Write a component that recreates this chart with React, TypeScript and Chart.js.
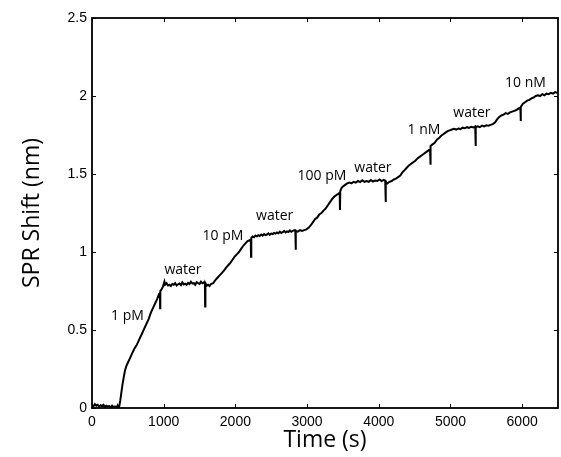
import React, { useEffect, useRef } from 'react';
import { Chart, registerables } from 'chart.js';

Chart.register(...registerables);

// Time (s)
const times = [
  0, 20, 40, 60, 80, 100, 120, 140, 160, 180, 200, 220, 240, 260, 280, 300, 320, 340, 355, 365,
  380, 395, 410, 425, 440, 460, 480, 500, 530, 560, 590, 620, 650, 680, 710, 730, 760, 790, 820, 850,
  880, 910, 935, 948, 950, 953, 970, 990, 1010, 1020, 1040, 1060, 1080, 1100, 1120, 1140, 1160, 1180, 1200, 1220,
  1240, 1260, 1280, 1300, 1320, 1340, 1360, 1380, 1400, 1420, 1440, 1460, 1480, 1500, 1520, 1540, 1560, 1575, 1578, 1582,
  1600, 1620, 1640, 1660, 1690, 1720, 1750, 1780, 1810, 1840, 1870, 1900, 1930, 1960, 1990, 2020, 2050, 2080, 2110, 2140,
  2170, 2200, 2215, 2218, 2222, 2240, 2260, 2280, 2300, 2320, 2340, 2360, 2380, 2400, 2420, 2440, 2460, 2480, 2500, 2520,
  2540, 2560, 2580, 2600, 2620, 2640, 2660, 2680, 2700, 2720, 2740, 2760, 2780, 2800, 2820, 2836, 2840, 2845, 2870, 2900,
  2930, 2960, 2990, 3020, 3050, 3080, 3110, 3140, 3170, 3200, 3230, 3260, 3290, 3320, 3350, 3380, 3410, 3440, 3455, 3459,
  3463, 3480, 3500, 3530, 3560, 3590, 3620, 3650, 3680, 3710, 3740, 3770, 3800, 3830, 3860, 3890, 3920, 3950, 3980, 4010,
  4040, 4070, 4090, 4095, 4100, 4120, 4150, 4180, 4210, 4240, 4270, 4300, 4330, 4360, 4390, 4420, 4450, 4480, 4510, 4540,
  4570, 4600, 4630, 4660, 4690, 4715, 4720, 4725, 4750, 4780, 4810, 4840, 4870, 4900, 4930, 4960, 4990, 5020, 5050, 5080,
  5110, 5140, 5170, 5200, 5230, 5260, 5290, 5320, 5345, 5350, 5355, 5380, 5410, 5440, 5470, 5500, 5530, 5560, 5590, 5620,
  5650, 5680, 5710, 5740, 5770, 5800, 5830, 5860, 5890, 5920, 5950, 5975, 5979, 5983, 6010, 6040, 6070, 6100, 6130, 6160,
  6190, 6220, 6250, 6280, 6310, 6340, 6370, 6400, 6430, 6460, 6490, 6500,
];

// SPR shift (nm)
const shifts = [
  0.02, 0.01, 0.025, 0.015, 0.02, 0.008, 0.018, 0.012, 0.02, 0.005, 0.015, 0.01, 0.012, 0.004, 0.015, 0.006, 0.01, 0.002, 0.015, 0.0,
  0.01, 0.05, 0.1, 0.15, 0.19, 0.24, 0.27, 0.29, 0.32, 0.35, 0.38, 0.4, 0.43, 0.46, 0.49, 0.51, 0.54, 0.57, 0.61, 0.64,
  0.67, 0.7, 0.73, 0.74, 0.64, 0.75, 0.76, 0.78, 0.81, 0.79, 0.8, 0.785, 0.79, 0.782, 0.795, 0.79, 0.8, 0.785, 0.793, 0.798,
  0.788, 0.805, 0.792, 0.797, 0.79, 0.802, 0.795, 0.81, 0.798, 0.8, 0.79, 0.806, 0.8, 0.795, 0.81, 0.8, 0.805, 0.8, 0.65, 0.8,
  0.785, 0.79, 0.782, 0.795, 0.8, 0.82, 0.835, 0.85, 0.865, 0.88, 0.9, 0.915, 0.93, 0.95, 0.97, 0.985, 1.0, 1.02, 1.04, 1.055,
  1.07, 1.075, 1.08, 0.97, 1.09, 1.1, 1.095, 1.105, 1.1, 1.108, 1.103, 1.112, 1.105, 1.115, 1.108, 1.112, 1.12, 1.11, 1.118, 1.115,
  1.122, 1.118, 1.125, 1.12, 1.13, 1.122, 1.127, 1.135, 1.125, 1.132, 1.128, 1.138, 1.13, 1.135, 1.14, 1.14, 1.015, 1.135, 1.13, 1.14,
  1.135, 1.14, 1.145, 1.155, 1.17, 1.19, 1.21, 1.22, 1.24, 1.25, 1.265, 1.28, 1.3, 1.32, 1.34, 1.355, 1.365, 1.375, 1.38, 1.27,
  1.39, 1.41, 1.42, 1.43, 1.44, 1.445, 1.44, 1.45, 1.445, 1.455, 1.448, 1.46, 1.45, 1.455, 1.45, 1.462, 1.452, 1.458, 1.455, 1.465,
  1.455, 1.462, 1.458, 1.32, 1.45, 1.44, 1.45, 1.455, 1.465, 1.47, 1.48, 1.49, 1.51, 1.525, 1.54, 1.555, 1.565, 1.575, 1.585, 1.6,
  1.61, 1.62, 1.63, 1.64, 1.65, 1.66, 1.56, 1.68, 1.69, 1.7, 1.72, 1.73, 1.745, 1.755, 1.765, 1.775, 1.78, 1.785, 1.79, 1.785,
  1.792, 1.788, 1.797, 1.793, 1.8, 1.795, 1.803, 1.798, 1.805, 1.68, 1.8, 1.806, 1.8, 1.81, 1.805, 1.812, 1.81, 1.815, 1.82, 1.83,
  1.85, 1.865, 1.875, 1.88, 1.89, 1.885, 1.895, 1.9, 1.905, 1.91, 1.92, 1.925, 1.84, 1.93, 1.95, 1.96, 1.97, 1.975, 1.985, 1.99,
  2.0, 2.005, 2.0, 2.012, 2.005, 2.015, 2.012, 2.02, 2.015, 2.025, 2.02, 2.025,
];

const xTickValues = [0, 1000, 2000, 3000, 4000, 5000, 6000];
const yTickValues = [0, 0.5, 1, 1.5, 2, 2.5];

// Injection annotations (text, anchor time, anchor shift)
const noteTexts = ['1 pM', 'water', '10 pM', 'water', '100 pM', 'water', '1 nM', 'water', '10 nM'];
const noteTimes = [494, 1269, 1827, 2548, 3208, 3919, 4630, 5300, 6046];
const noteShifts = [0.592, 0.886, 1.104, 1.228, 1.489, 1.54, 1.784, 1.892, 2.085];

const framePlugin = {
  id: 'frame',
  afterDraw(chart: any) {
    const { ctx, chartArea, scales } = chart;
    const { left, right, top, bottom } = chartArea;
    const x = scales.x;
    const y = scales.y;
    ctx.save();
    ctx.strokeStyle = '#000';
    ctx.lineWidth = 1.8;
    ctx.strokeRect(left, top, right - left, bottom - top);
    ctx.lineWidth = 1;
    ctx.beginPath();
    const tl = 4;
    x.ticks.forEach((t: any) => {
      const px = Math.round(x.getPixelForValue(t.value)) + 0.5;
      ctx.moveTo(px, bottom);
      ctx.lineTo(px, bottom - tl);
      ctx.moveTo(px, top);
      ctx.lineTo(px, top + tl);
    });
    y.ticks.forEach((t: any) => {
      const py = Math.round(y.getPixelForValue(t.value)) + 0.5;
      ctx.moveTo(left, py);
      ctx.lineTo(left + tl, py);
      ctx.moveTo(right, py);
      ctx.lineTo(right - tl, py);
    });
    ctx.stroke();

    ctx.fillStyle = '#000';
    ctx.font = '14px "Open Sans"';
    ctx.textAlign = 'center';
    ctx.textBaseline = 'middle';
    noteTexts.forEach((txt, i) => {
      ctx.fillText(txt, x.getPixelForValue(noteTimes[i]), y.getPixelForValue(noteShifts[i]));
    });
    ctx.restore();
  },
};

export default function App() {
  const ref = useRef<HTMLCanvasElement>(null);
  useEffect(() => {
    if (!ref.current) return;
    const data = times.map((t, i) => ({ x: t, y: shifts[i] }));
    const chart = new Chart(ref.current, {
      type: 'line',
      data: {
        datasets: [
          {
            data,
            borderColor: '#000',
            borderWidth: 2,
            pointRadius: 0,
            tension: 0,
            fill: false,
          },
        ],
      },
      options: {
        responsive: false,
        animation: false,
        layout: { padding: { top: 18, right: 3, left: 0, bottom: 0 } },
        plugins: { legend: { display: false }, tooltip: { enabled: false } },
        scales: {
          x: {
            type: 'linear',
            min: 0,
            max: 6500,
            afterFit: (s: any) => {
              s.height = 49;
            },
            afterBuildTicks: (s: any) => {
              s.ticks = xTickValues.map((v) => ({ value: v }));
            },
            grid: { display: false, drawTicks: false },
            border: { display: false },
            ticks: {
              padding: 6,
              color: '#000',
              font: { family: '"Liberation Sans", Arial, sans-serif', size: 14 },
              maxRotation: 0,
              autoSkip: false,
              callback: (v: any) => String(v),
            },
            title: {
              display: true,
              text: 'Time (s)',
              color: '#000',
              font: { family: '"Open Sans"', size: 23 },
              padding: { top: 0, bottom: 3 },
            },
          },
          y: {
            type: 'linear',
            min: 0,
            max: 2.5,
            afterFit: (s: any) => {
              s.width = 92;
            },
            afterBuildTicks: (s: any) => {
              s.ticks = yTickValues.map((v) => ({ value: v }));
            },
            grid: { display: false, drawTicks: false },
            border: { display: false },
            ticks: {
              padding: 5,
              color: '#000',
              font: { family: '"Liberation Sans", Arial, sans-serif', size: 14 },
              autoSkip: false,
              callback: (v: any) => String(v),
            },
            title: {
              display: true,
              text: 'SPR Shift (nm)',
              color: '#000',
              font: { family: '"Open Sans"', size: 23 },
              padding: { top: 19, bottom: 0 },
            },
          },
        },
      },
      plugins: [framePlugin],
    });
    return () => chart.destroy();
  }, []);
  return (
    <div style={{ position: 'fixed', left: 0, top: 0, width: 561, height: 457, background: '#fff' }}>
      <canvas ref={ref} width={561} height={457} style={{ display: 'block' }} />
    </div>
  );
}
